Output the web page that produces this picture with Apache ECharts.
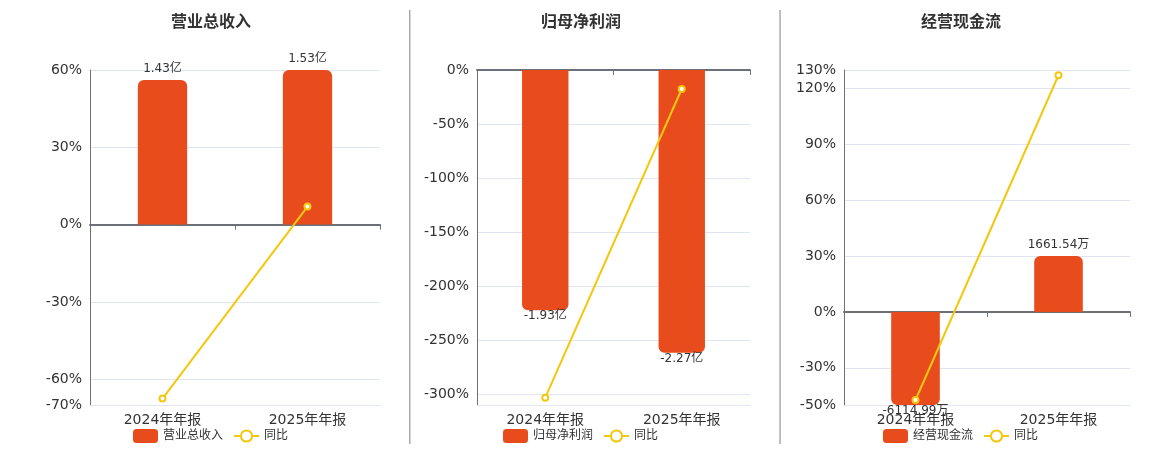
<!DOCTYPE html>
<html>
<head>
<meta charset="utf-8">
<script src="https://cdn.jsdelivr.net/npm/echarts@6/dist/echarts.min.js"></script>
<style>
html,body{margin:0;padding:0;background:#fff;}
#c{width:1160px;height:450px;}
</style>
</head>
<body>
<div id="c"></div>
<script>
// ---- data ----
const categories = ['2024年年报', '2025年年报'];
const panelTitles = ['营业总收入', '归母净利润', '经营现金流'];
const yoyName = '同比';

const revenueValues = [1.43, 1.53];
const revenueLabels = ['1.43亿', '1.53亿'];
const revenueYoy = [-67.5, 6.99];
const revenueTicks = [-70, -60, -30, 0, 30, 60];
const revenuePctRange = [-70, 60];
const revenueBarRange = [-1.785, 1.53];

const profitValues = [-1.93, -2.27];
const profitLabels = ['-1.93亿', '-2.27亿'];
const profitYoy = [-303.2, -17.6];
const profitTicks = [-300, -250, -200, -150, -100, -50, 0];
const profitPctRange = [-310, 0];
const profitBarRange = [-2.69, 0];

const cashValues = [-6114.99, 1661.54];
const cashLabels = ['-6114.99万', '1661.54万'];
const cashYoy = [-47.3, 127.17];
const cashTicks = [-50, -30, 0, 30, 60, 90, 120, 130];
const cashPctRange = [-50, 130];
const cashBarRange = [-2769, 7200];

// ---- styling / layout ----
const BAR_COLOR = '#E84C1D';
const LINE_COLOR = '#F2C80F';
const AXIS_COLOR = '#6E7079';
const GRID_COLOR = '#E0E6F1';
const TEXT_COLOR = '#333';
const FONT = '"DejaVu Sans", "Noto Sans CJK SC", sans-serif';

const panels = [
  {title: panelTitles[0], bars: revenueValues, labels: revenueLabels, yoy: revenueYoy, ticks: revenueTicks, pct: revenuePctRange, barRange: revenueBarRange},
  {title: panelTitles[1], bars: profitValues, labels: profitLabels, yoy: profitYoy, ticks: profitTicks, pct: profitPctRange, barRange: profitBarRange},
  {title: panelTitles[2], bars: cashValues, labels: cashLabels, yoy: cashYoy, ticks: cashTicks, pct: cashPctRange, barRange: cashBarRange}
];
const layout = [
  {left: 90, width: 290, center: 211, legendLeft: 133},
  {left: 477, width: 273, center: 581, legendLeft: 503},
  {left: 844, width: 286, center: 961, legendLeft: 883}
];

const option = {
  animation: false,
  backgroundColor: '#fff',
  textStyle: {fontFamily: FONT},
  title: [], grid: [], xAxis: [], yAxis: [], series: [], legend: [],
  graphic: [
    {type: 'rect', shape: {x: 409, y: 10, width: 1.5, height: 434}, style: {fill: '#AAAAAA'}, silent: true},
    {type: 'rect', shape: {x: 779.3, y: 10, width: 1.5, height: 434}, style: {fill: '#AAAAAA'}, silent: true}
  ]
};

panels.forEach(function (p, i) {
  const L = layout[i];
  option.title.push({
    text: p.title, left: L.center, top: 15, textAlign: 'center', padding: 0,
    textStyle: {fontSize: 16, fontWeight: 'bold', color: TEXT_COLOR, fontFamily: FONT}
  });
  option.grid.push({left: L.left, top: 70, width: L.width, height: 335, outerBoundsMode: 'none', containLabel: false});
  // label axis at the bottom
  option.xAxis.push({
    type: 'category', gridIndex: i, position: 'bottom', data: categories,
    axisLine: {show: true, onZero: false, lineStyle: {color: GRID_COLOR, width: 1}},
    axisTick: {show: false},
    axisLabel: {show: true, fontSize: 14, color: TEXT_COLOR, margin: 8, fontFamily: FONT},
    splitLine: {show: false}
  });
  // zero line axis
  option.xAxis.push({
    type: 'category', gridIndex: i, position: 'bottom', data: categories,
    axisLine: {show: true, onZero: true, onZeroAxisIndex: 2 * i, lineStyle: {color: AXIS_COLOR, width: 2}},
    axisTick: {show: true, length: 5, lineStyle: {color: AXIS_COLOR}},
    axisLabel: {show: false},
    splitLine: {show: false}
  });
  option.yAxis.push({
    type: 'value', gridIndex: i, position: 'left', min: p.pct[0], max: p.pct[1],
    axisLine: {show: true, lineStyle: {color: AXIS_COLOR, width: 1}},
    axisTick: {show: false, customValues: p.ticks},
    axisLabel: {show: true, customValues: p.ticks, formatter: '{value}%', fontSize: 14, color: TEXT_COLOR, margin: 8, fontFamily: FONT},
    splitLine: {show: true, lineStyle: {color: GRID_COLOR, width: 1}}
  });
  option.yAxis.push({
    type: 'value', gridIndex: i, position: 'right', min: p.barRange[0], max: p.barRange[1], show: false,
    splitLine: {show: false}
  });
  option.series.push({
    type: 'bar', name: p.title, xAxisIndex: 2 * i, yAxisIndex: 2 * i + 1,
    barWidth: '34%', clip: true, z: 2,
    itemStyle: {color: BAR_COLOR},
    data: p.bars.map(function (v) {
      const neg = v < 0;
      return {
        value: v,
        itemStyle: {borderRadius: neg ? [0, 0, 6, 6] : [6, 6, 0, 0]},
        label: {position: neg ? 'bottom' : 'top', distance: neg ? 0 : 5}
      };
    }),
    label: {
      show: true, fontSize: 12, color: TEXT_COLOR, fontFamily: FONT,
      formatter: function (params) { return p.labels[params.dataIndex]; }
    }
  });
  option.series.push({
    type: 'line', name: yoyName, xAxisIndex: 2 * i, yAxisIndex: 2 * i, z: 5,
    data: p.yoy, symbol: 'emptyCircle', symbolSize: 6,
    lineStyle: {color: LINE_COLOR, width: 2},
    itemStyle: {color: LINE_COLOR, borderColor: LINE_COLOR, borderWidth: 2}
  });
  option.legend.push({
    left: L.legendLeft, top: 429, padding: 0, itemGap: 10, itemWidth: 25, itemHeight: 14,
    data: [p.title, yoyName],
    textStyle: {fontSize: 12, color: TEXT_COLOR, fontFamily: FONT}
  });
});

const chart = echarts.init(document.getElementById('c'), null, {renderer: 'canvas'});
chart.setOption(option);
</script>
</body>
</html>
